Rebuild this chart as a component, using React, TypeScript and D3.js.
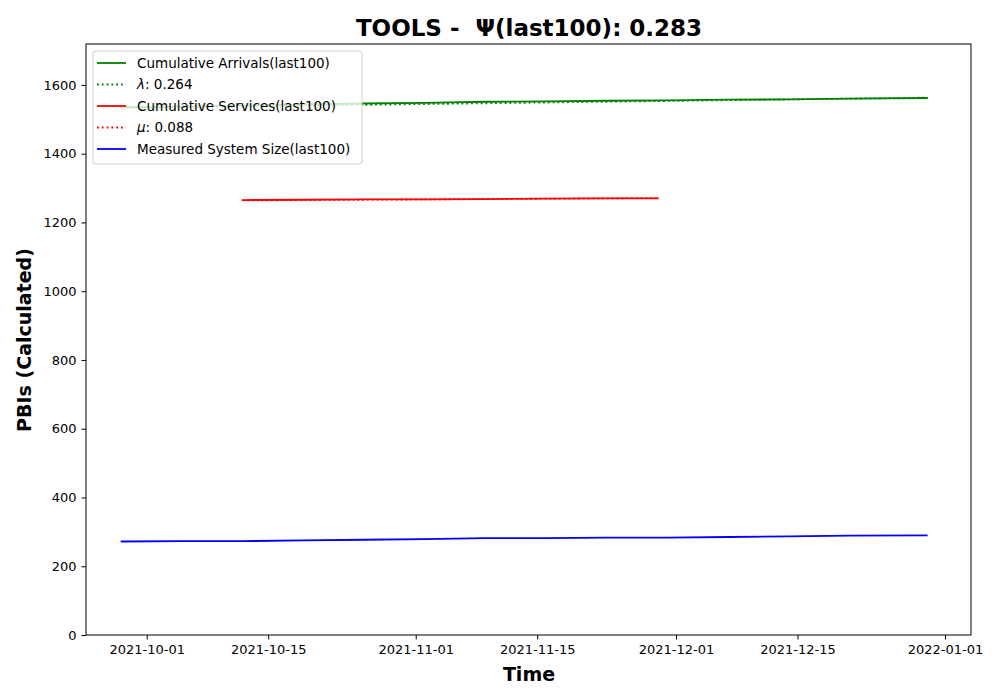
import React, { useEffect, useRef } from 'react';
import * as d3 from 'd3';

const arrivalDates = ['2021-09-28', '2021-10-05', '2021-10-12', '2021-10-19', '2021-10-26', '2021-11-02', '2021-11-09', '2021-11-16', '2021-11-23', '2021-11-30', '2021-12-07', '2021-12-14', '2021-12-21', '2021-12-30'];
const arrivals = [1535, 1537, 1540, 1543, 1546, 1548, 1551, 1552, 1554, 1555, 1557, 1558, 1560, 1562];
const systemSize = [272, 273, 273, 275, 277, 279, 282, 282, 283, 283, 285, 287, 289, 290];
const lambdaDates = ['2021-09-28', '2021-12-30'];
const lambdaFit = [1533, 1563];

const serviceDates = ['2021-10-12', '2021-10-19', '2021-10-26', '2021-11-02', '2021-11-09', '2021-11-16', '2021-11-23', '2021-11-29'];
const services = [1265, 1266, 1267, 1267, 1268, 1269, 1270, 1270];
const muDates = ['2021-10-12', '2021-11-29'];
const muFit = [1264, 1271];

const xTicks = ['2021-10-01', '2021-10-15', '2021-11-01', '2021-11-15', '2021-12-01', '2021-12-15', '2022-01-01'];
const yTicks = [0, 200, 400, 600, 800, 1000, 1200, 1400, 1600];

const legendItems = [
  { sym: '', label: 'Cumulative Arrivals(last100)', color: 'green', dotted: false },
  { sym: 'λ', label: ': 0.264', color: 'green', dotted: true },
  { sym: '', label: 'Cumulative Services(last100)', color: 'red', dotted: false },
  { sym: 'μ', label: ': 0.088', color: 'red', dotted: true },
  { sym: '', label: 'Measured System Size(last100)', color: 'blue', dotted: false },
];

const App: React.FC = () => {
  const svgRef = useRef<SVGSVGElement>(null);

  useEffect(() => {
    if (!svgRef.current) return;
    const svg = d3.select(svgRef.current);
    svg.selectAll('*').remove();
    const left = 86, right = 971, top = 44, bottom = 635;
    const parse = d3.utcParse('%Y-%m-%d');
    const x = d3.scaleUtc()
      .domain([parse('2021-09-24')!, parse('2022-01-04')!])
      .range([left, right]);
    const y = d3.scaleLinear().domain([0, 1719]).range([bottom, top]);
    const font = 'DejaVu Sans, sans-serif';

    const line = d3.line<[string, number]>()
      .x(d => x(parse(d[0])!))
      .y(d => y(d[1]));
    const draw = (dates: string[], vals: number[], color: string, dotted: boolean) => {
      svg.append('path')
        .attr('d', line(dates.map((d, i) => [d, vals[i]] as [string, number])))
        .attr('fill', 'none')
        .attr('stroke', color)
        .attr('stroke-width', 1.8)
        .attr('stroke-dasharray', dotted ? '1.8,3' : null);
    };
    draw(arrivalDates, arrivals, 'green', false);
    draw(lambdaDates, lambdaFit, 'green', true);
    draw(serviceDates, services, 'red', false);
    draw(muDates, muFit, 'red', true);
    draw(arrivalDates, systemSize, 'blue', false);

    svg.append('rect')
      .attr('x', left).attr('y', top)
      .attr('width', right - left).attr('height', bottom - top)
      .attr('fill', 'none').attr('stroke', 'black').attr('stroke-width', 1);

    const xa = svg.append('g').attr('transform', `translate(0,${bottom})`)
      .call(d3.axisBottom(x).tickValues(xTicks.map(t => parse(t)!)).tickFormat(d => d3.utcFormat('%Y-%m-%d')(d as Date)).tickSizeOuter(0).tickSize(4.5).tickPadding(5));
    const ya = svg.append('g').attr('transform', `translate(${left},0)`)
      .call(d3.axisLeft(y).tickValues(yTicks).tickFormat(d3.format('d')).tickSizeOuter(0).tickSize(4.5).tickPadding(5));
    [xa, ya].forEach(a => {
      a.select('.domain').remove();
      a.selectAll('text').attr('font-family', font).attr('font-size', 13).attr('fill', 'black');
    });

    svg.append('text').attr('x', 529).attr('y', 36).attr('text-anchor', 'middle')
      .attr('font-family', font).attr('font-size', 23).attr('font-weight', 'bold')
      .style('white-space', 'pre')
      .text('TOOLS -\u00a0 Ψ(last100): 0.283');
    svg.append('text').attr('x', 529).attr('y', 681).attr('text-anchor', 'middle')
      .attr('font-family', font).attr('font-size', 19).attr('font-weight', 'bold').text('Time');
    svg.append('text').attr('transform', 'translate(31,340) rotate(-90)').attr('text-anchor', 'middle')
      .attr('font-family', font).attr('font-size', 19).attr('font-weight', 'bold').text('PBIs (Calculated)');

    const lg = svg.append('g').attr('transform', 'translate(93,51)');
    lg.append('rect').attr('width', 269).attr('height', 113).attr('rx', 3)
      .attr('fill', 'white').attr('fill-opacity', 0.8).attr('stroke', '#ccc');
    legendItems.forEach((it, i) => {
      const yy = 12 + i * 21.5;
      lg.append('line').attr('x1', 4).attr('x2', 33).attr('y1', yy).attr('y2', yy)
        .attr('stroke', it.color).attr('stroke-width', 1.8)
        .attr('stroke-dasharray', it.dotted ? '1.8,3' : null);
      const t = lg.append('text').attr('x', 44).attr('y', yy + 4.5)
        .attr('font-family', font).attr('font-size', 13.5);
      if (it.sym) t.append('tspan').attr('font-style', 'italic').text(it.sym);
      t.append('tspan').text(it.label);
    });
  }, []);

  return <svg ref={svgRef} width={1000} height={700} style={{ display: 'block', margin: -8 }} />;
};

export default App;
